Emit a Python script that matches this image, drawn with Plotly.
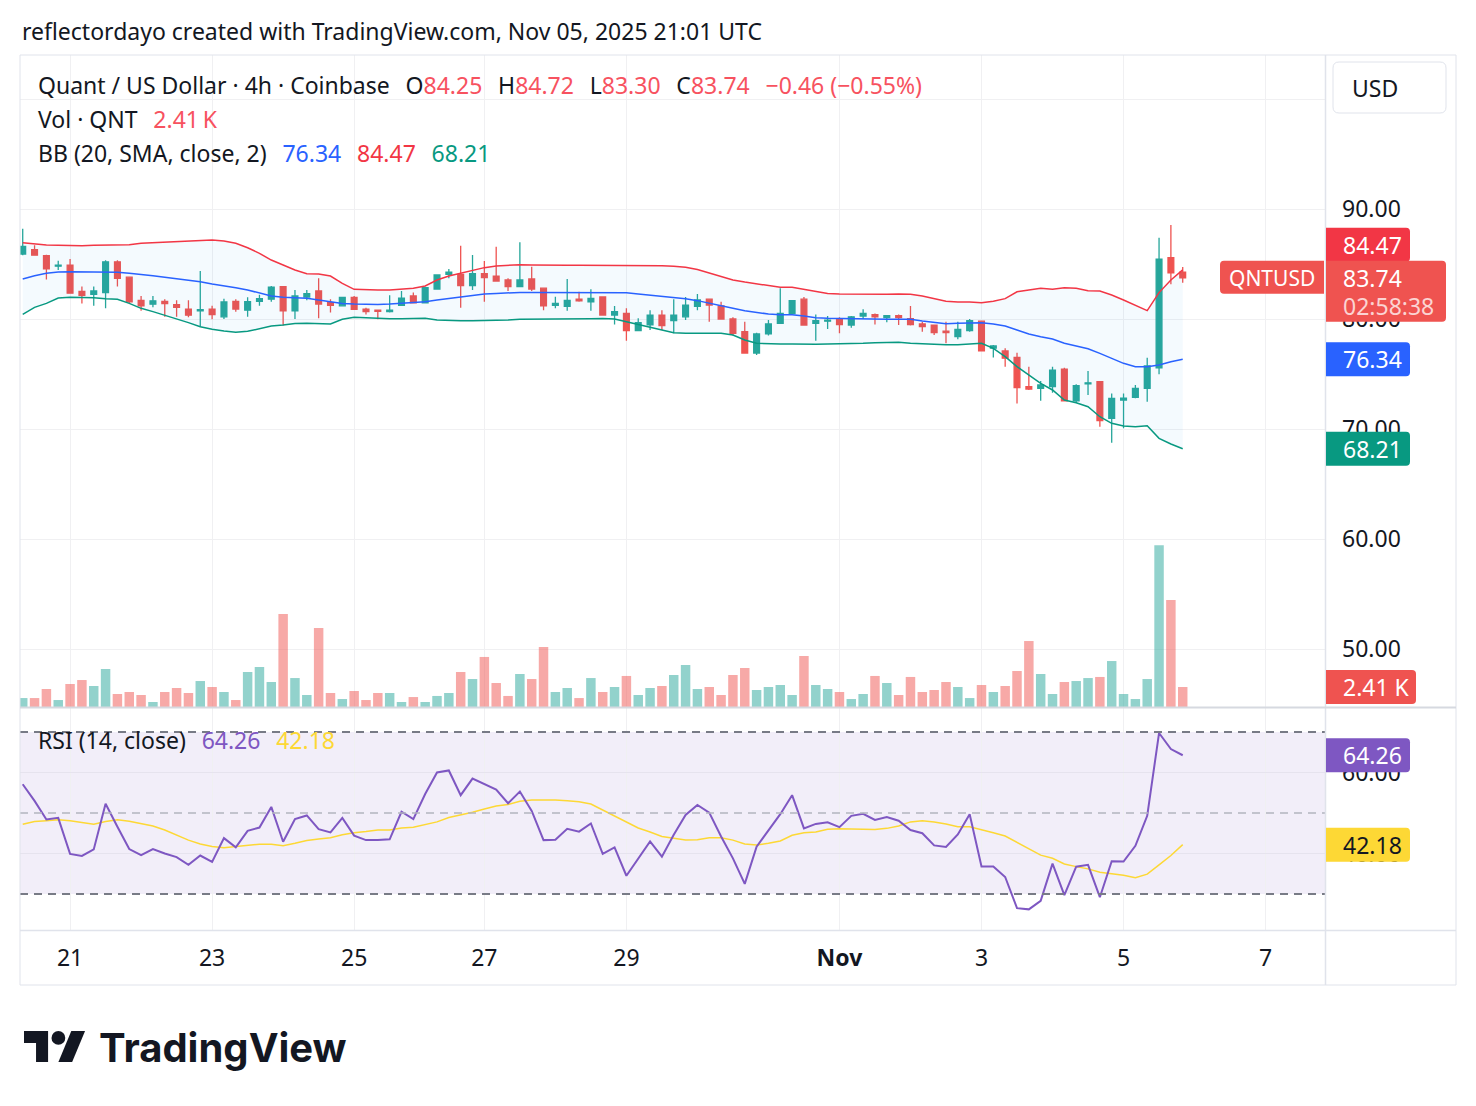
import plotly.graph_objects as go

# ---------------- data ----------------
opens = [85.9, 86.3, 85.75, 84.8, 84.9, 82.5, 82.25, 82.4, 85.2, 83.8,
         81.7, 81.35, 81.6, 81.3, 80.9, 80.75, 80.9, 80.2, 81.6, 80.8,
         81.6, 81.8, 82.95, 80.75, 82.0, 82.55, 81.48, 81.2, 81.97, 80.9,
         80.8, 80.67, 81.24, 82.1, 81.48, 82.73, 84.06, 84.06, 83.03, 84.12,
         83.9, 83.55, 82.94, 83.64, 82.8, 81.24, 81.15, 81.8, 81.57, 82.0,
         80.36, 80.5, 78.94, 79.48, 80.36, 79.85, 80.2, 81.15, 81.8, 81.2,
         80.0, 78.85, 76.9, 78.64, 79.6, 80.5, 81.8, 79.6, 79.8, 79.97,
         79.45, 80.27, 80.4, 80.12, 80.3, 80.03, 79.55, 79.45, 78.9, 78.4,
         78.94, 79.8, 77.35, 77.1, 76.5, 73.85, 73.7, 73.85, 75.45, 72.57,
         74.1, 74.3, 70.97, 72.64, 72.88, 73.7, 75.57, 85.57, 84.25]
highs = [88.2, 86.7, 85.85, 85.3, 85.45, 82.95, 82.95, 85.35, 85.35, 83.85,
         82.1, 82.1, 81.8, 81.7, 81.7, 84.36, 81.2, 81.85, 81.8, 81.97,
         82.2, 83.0, 83.0, 82.64, 82.64, 83.7, 81.8, 82.0, 82.1, 81.03,
         80.85, 82.15, 82.55, 82.4, 82.94, 84.0, 84.55, 86.66, 85.82, 85.27,
         86.57, 83.7, 86.97, 84.76, 82.8, 82.03, 83.64, 82.48, 82.7, 82.05,
         81.18, 80.97, 80.06, 80.8, 80.8, 81.8, 82.0, 82.27, 81.85, 81.57,
         80.15, 79.76, 78.76, 79.9, 82.8, 81.7, 82.0, 80.4, 80.27, 80.15,
         80.27, 80.88, 80.5, 80.36, 80.4, 81.18, 79.76, 79.45, 79.76, 79.76,
         80.0, 79.85, 77.64, 77.34, 76.94, 75.67, 74.36, 75.67, 75.57, 74.06,
         75.27, 74.36, 73.24, 73.24, 74.0, 76.48, 87.39, 88.55, 84.72]
lows = [85.8, 85.8, 83.6, 84.45, 82.3, 81.4, 81.2, 80.97, 82.95, 81.4,
        80.75, 81.06, 80.2, 80.2, 80.15, 79.3, 79.97, 80.0, 80.67, 80.2,
        81.2, 81.57, 79.4, 80.0, 81.7, 80.06, 80.6, 81.15, 80.85, 80.4,
        79.97, 80.6, 81.24, 81.45, 81.45, 82.7, 83.7, 81.03, 82.64, 81.57,
        83.4, 82.55, 82.88, 82.55, 80.8, 80.97, 80.75, 81.57, 80.75, 80.3,
        79.5, 78.03, 78.9, 79.0, 79.0, 78.7, 79.9, 80.8, 79.76, 80.0,
        78.5, 76.9, 76.73, 78.5, 79.6, 80.5, 79.4, 78.03, 79.1, 78.7,
        79.2, 80.0, 79.5, 79.7, 79.45, 79.4, 78.85, 78.55, 77.8, 78.15,
        78.85, 77.1, 76.5, 75.67, 72.33, 73.55, 72.57, 73.3, 72.5, 72.4,
        73.1, 70.2, 68.76, 70.06, 72.79, 72.48, 74.97, 83.15, 83.3]
closes = [86.6, 85.8, 84.55, 84.9, 82.35, 82.15, 82.55, 85.2, 83.7, 81.55,
          81.2, 81.65, 81.4, 81.05, 80.35, 80.85, 80.4, 81.55, 80.9, 81.57,
          81.85, 82.9, 80.75, 82.1, 82.3, 81.36, 81.24, 81.97, 80.88, 80.67,
          80.7, 80.8, 81.9, 81.48, 82.85, 84.0, 84.25, 83.03, 84.12, 83.76,
          83.45, 82.94, 83.55, 82.73, 81.2, 81.42, 81.7, 81.64, 81.88, 80.36,
          80.66, 78.94, 79.67, 80.36, 79.4, 80.36, 81.27, 81.73, 81.27, 80.0,
          78.7, 76.9, 78.64, 79.55, 80.5, 81.66, 79.45, 79.85, 79.9, 79.5,
          80.2, 80.5, 80.2, 80.3, 80.12, 79.5, 79.3, 78.76, 78.76, 79.06,
          79.85, 77.1, 77.55, 76.44, 73.76, 73.64, 74.0, 75.36, 72.55, 73.94,
          74.2, 70.76, 72.79, 72.8, 73.7, 75.73, 85.45, 84.20, 83.74]
volumes_k = [1.08, 1.08, 2.17, 0.84, 2.77, 3.25, 2.53, 4.58, 1.57, 1.81,
             1.45, 0.60, 1.81, 2.29, 1.69, 3.13, 2.41, 1.81, 0.84, 4.22,
             4.82, 3.01, 11.2, 3.49, 1.45, 9.52, 1.69, 0.96, 1.93, 0.84,
             1.69, 1.69, 0.60, 1.20, 0.60, 1.33, 1.69, 4.22, 3.37, 6.03,
             2.89, 1.33, 3.98, 3.37, 7.23, 1.81, 2.29, 1.08, 3.49, 1.81,
             2.41, 3.74, 1.45, 2.29, 2.53, 3.86, 5.06, 2.17, 2.41, 1.45,
             3.86, 4.70, 2.05, 2.41, 2.65, 1.45, 6.15, 2.65, 2.17, 1.81,
             0.96, 1.57, 3.74, 2.89, 1.45, 3.62, 1.81, 2.05, 3.01, 2.41,
             1.08, 2.65, 1.81, 2.53, 4.34, 7.95, 3.98, 1.57, 3.01, 3.13,
             3.49, 3.62, 5.54, 1.57, 0.96, 3.37, 19.5, 12.9, 2.41]
bb_upper = [86.94, 86.82, 86.73, 86.70, 86.67, 86.67, 86.70, 86.70, 86.70, 86.76,
            86.88, 86.94, 86.97, 87.03, 87.12, 87.18, 87.18, 87.09, 86.88, 86.48,
            85.97, 85.36, 84.91, 84.45, 84.12, 84.09, 83.91, 83.24, 82.70, 82.64,
            82.64, 82.64, 82.70, 82.79, 83.00, 83.55, 83.91, 84.15, 84.45, 84.67,
            84.82, 84.91, 84.94, 84.91, 84.88, 84.88, 84.88, 84.88, 84.88, 84.88,
            84.88, 84.9, 84.9, 84.9, 84.85, 84.8, 84.7, 84.5, 84.2, 83.9,
            83.55, 83.36, 83.18, 83.0, 82.88, 82.88, 82.7, 82.49, 82.33, 82.27,
            82.25, 82.25, 82.25, 82.25, 82.27, 82.24, 82.09, 81.85, 81.61, 81.55,
            81.55, 81.48, 81.61, 81.85, 82.48, 82.64, 82.79, 82.7, 82.85, 82.79,
            82.58, 82.55, 82.18, 81.73, 81.27, 80.76, 82.4, 83.55, 84.47]
bb_mid = [83.64, 83.94, 84.15, 84.27, 84.30, 84.30, 84.30, 84.30, 84.24, 84.15,
          84.06, 83.94, 83.79, 83.67, 83.55, 83.39, 83.18, 83.03, 82.85, 82.64,
          82.33, 82.09, 81.97, 81.91, 81.88, 81.73, 81.58, 81.42, 81.36, 81.33,
          81.33, 81.36, 81.42, 81.48, 81.58, 81.73, 81.88, 82.03, 82.15, 82.27,
          82.33, 82.39, 82.42, 82.42, 82.42, 82.42, 82.42, 82.42, 82.42, 82.45,
          82.42, 82.39, 82.27, 82.18, 82.09, 81.97, 81.85, 81.67, 81.42, 81.18,
          80.97, 80.76, 80.58, 80.45, 80.39, 80.39, 80.27, 80.12, 80.06, 80.03,
          80.0, 80.0, 79.97, 79.97, 79.97, 79.97, 79.82, 79.67, 79.58, 79.61,
          79.67, 79.67, 79.55, 79.36, 79.0, 78.64, 78.39, 78.18, 77.79, 77.55,
          77.3, 76.88, 76.42, 75.97, 75.67, 75.67, 75.82, 76.12, 76.34]
bb_lower = [80.42, 81.06, 81.42, 81.91, 81.97, 81.97, 81.94, 81.85, 81.79, 81.42,
            80.97, 80.67, 80.36, 80.03, 79.67, 79.30, 79.06, 78.91, 78.79, 78.88,
            79.15, 79.36, 79.45, 79.60, 79.62, 79.6, 79.54, 79.97, 80.15, 80.12,
            80.06, 80.03, 80.03, 80.06, 80.06, 79.91, 79.85, 79.85, 79.85, 79.85,
            79.85, 79.91, 79.97, 79.97, 80.0, 80.0, 79.97, 79.97, 80.03, 80.04,
            80.0, 79.76, 79.52, 79.24, 79.0, 78.76, 78.7, 78.7, 78.76, 78.7,
            78.55, 78.09, 77.79, 77.73, 77.73, 77.73, 77.7, 77.7, 77.73, 77.73,
            77.73, 77.79, 77.85, 77.88, 77.88, 77.79, 77.73, 77.7, 77.67, 77.67,
            77.73, 77.79, 77.33, 76.58, 75.67, 74.91, 74.15, 73.55, 72.64, 72.39,
            72.03, 71.12, 70.52, 70.27, 70.21, 70.3, 69.15, 68.64, 68.21]
rsi = [57.1, 53.0, 48.4, 48.8, 39.9, 39.4, 41.0, 52.3, 46.6, 41.1,
       39.6, 41.1, 40.0, 39.1, 37.2, 39.5, 37.9, 43.8, 41.5, 45.6,
       46.4, 51.5, 42.9, 48.5, 49.4, 46.0, 45.2, 48.8, 44.4, 43.3,
       43.3, 43.5, 50.3, 48.5, 54.7, 60.0, 60.5, 54.4, 58.5, 57.2,
       55.8, 52.4, 55.3, 50.5, 43.3, 43.4, 46.1, 45.4, 47.4, 39.9,
       41.5, 34.5, 38.8, 43.0, 39.2, 44.6, 49.5, 52.0, 50.1, 44.2,
       38.8, 32.5, 41.7, 45.8, 49.7, 54.4, 46.2, 47.3, 47.7, 46.5,
       49.3, 49.8, 48.3, 49.0, 48.1, 45.8, 45.0, 42.0, 41.6, 44.7,
       49.7, 36.8, 36.8, 34.2, 26.5, 26.2, 28.3, 37.5, 29.7, 36.75,
       37.2, 29.2, 38.1, 38.0, 41.9, 49.3, 69.75, 65.8, 64.26]
rsi_ma = [47.2, 47.9, 48.1, 48.3, 48.1, 47.6, 47.2, 47.9, 48.3, 47.95,
          47.45, 46.8, 45.8, 44.6, 43.3, 42.35, 41.7, 41.44, 41.7, 42.0,
          42.3, 42.3, 41.9, 42.5, 43.2, 43.6, 43.9, 44.6, 45.1, 45.4,
          45.8, 45.8, 46.3, 46.5, 47.1, 47.8, 48.9, 49.5, 50.2, 51.0,
          51.7, 52.1, 52.9, 53.2, 53.2, 53.2, 53.0, 52.8, 52.2, 50.7,
          49.3, 47.7, 46.3, 45.3, 44.2, 43.75, 43.3, 43.4, 43.9, 43.9,
          43.3, 42.35, 42.1, 42.5, 43.1, 44.5, 45.1, 45.3, 46.0, 46.1,
          46.1, 46.0, 45.9, 46.2, 46.8, 47.8, 48.1, 47.8, 47.3, 46.6,
          46.6, 45.9, 45.1, 44.3, 42.7, 41.0, 39.6, 38.8, 37.4, 36.75,
          36.2, 35.35, 35.0, 34.6, 34.0, 34.9, 37.2, 39.5, 42.18]
tick_pos = [4, 16, 28, 39, 51, 69, 81, 93, 105]
tick_text = ["21", "23", "25", "27", "29", "<b>Nov</b>", "3", "5", "7"]
price_ticks = [50, 60, 70, 80, 90, 100]
price_tick_text = ["50.00", "60.00", "70.00", "80.00", "90.00", ""]
rsi_ticks = [40, 60]
rsi_tick_text = ["40.00", "60.00"]
rsi_levels = [70, 50, 30]

idx = list(range(len(closes)))

# ---------------- styling ----------------
W, H = 1476, 1106
FONT = "Noto Sans"
FS = 23
TXT = "#131722"
GRID = "#f0f0f2"
UP, DOWN = "#26a69a", "#ef5350"
def px(x): return x / W
def py(y): return 1 - y / H

X0, X1 = px(20), px(1325)
P_DOM = [py(707), py(55)]
R_DOM = [py(930), py(708)]
XR = [-0.23, 110.02]

vol_colors = ["rgba(38,166,154,0.5)" if c >= o else "rgba(239,83,80,0.5)"
              for o, c in zip(opens, closes)]

fig = go.Figure()
fig.add_trace(go.Scatter(x=idx, y=bb_upper, mode="lines", line=dict(color="#f23645", width=1.5),
                         xaxis="x", yaxis="y", hoverinfo="skip"))
fig.add_trace(go.Scatter(x=idx, y=bb_lower, mode="lines", line=dict(color="#089981", width=1.5),
                         fill="tonexty", fillcolor="rgba(33,150,243,0.05)",
                         xaxis="x", yaxis="y", hoverinfo="skip"))
fig.add_trace(go.Scatter(x=idx, y=bb_mid, mode="lines", line=dict(color="#2962ff", width=1.5),
                         xaxis="x", yaxis="y", hoverinfo="skip"))
fig.add_trace(go.Candlestick(x=idx, open=opens, high=highs, low=lows, close=closes,
                             increasing=dict(line=dict(color=UP, width=1.3), fillcolor=UP),
                             decreasing=dict(line=dict(color=DOWN, width=1.3), fillcolor=DOWN),
                             whiskerwidth=0, xaxis="x", yaxis="y"))
fig.add_trace(go.Bar(x=idx, y=volumes_k, marker=dict(color=vol_colors, line=dict(width=0)),
                     width=0.8, xaxis="x", yaxis="y3", hoverinfo="skip"))
fig.add_trace(go.Scatter(x=idx, y=rsi_ma, mode="lines", line=dict(color="#fdd835", width=1.5),
                         xaxis="x2", yaxis="y2", hoverinfo="skip"))
fig.add_trace(go.Scatter(x=idx, y=rsi, mode="lines", line=dict(color="#7e57c2", width=2),
                         xaxis="x2", yaxis="y2", hoverinfo="skip"))

axis_font = dict(family=FONT, size=FS, color=TXT)
fig.update_layout(
    width=W, height=H, margin=dict(l=0, r=0, t=0, b=0),
    paper_bgcolor="white", plot_bgcolor="white", showlegend=False,
    font=dict(family=FONT, size=FS, color=TXT), hovermode=False,
    xaxis=dict(domain=[X0, X1], anchor="y", range=XR, tickvals=tick_pos, showticklabels=False,
               showgrid=True, gridcolor=GRID, zeroline=False, showline=False, ticks="",
               rangeslider=dict(visible=False), fixedrange=True),
    xaxis2=dict(domain=[X0, X1], anchor="y2", range=XR, tickvals=tick_pos, ticktext=tick_text,
                showgrid=True, gridcolor=GRID, zeroline=False, showline=False, ticks="",
                ticklabelstandoff=12, tickfont=axis_font, matches="x", fixedrange=True),
    yaxis=dict(domain=P_DOM, anchor="x", side="right", range=[44.73, 104.0], tickvals=price_ticks,
               ticktext=price_tick_text, showgrid=True, gridcolor=GRID, zeroline=False,
               showline=False, ticks="", ticklabelstandoff=16, tickfont=axis_font, fixedrange=True),
    yaxis3=dict(overlaying="y", anchor="x", range=[0, 78.57], visible=False, fixedrange=True),
    yaxis2=dict(domain=R_DOM, anchor="x2", side="right", range=[21.1, 75.93], tickvals=rsi_ticks,
                ticktext=rsi_tick_text, showgrid=True, gridcolor="#e6e3ee", zeroline=False,
                showline=False, ticks="", ticklabelstandoff=16, tickfont=axis_font, fixedrange=True),
)

shapes = []
# RSI band and level lines
shapes.append(dict(type="rect", xref="paper", yref="y2", x0=X0, x1=X1, y0=rsi_levels[2], y1=rsi_levels[0],
                   fillcolor="rgba(126,87,194,0.1)", line=dict(width=0), layer="below"))
for lv in rsi_levels:
    mid = lv == 50
    shapes.append(dict(type="line", xref="paper", yref="y2", x0=X0, x1=X1, y0=lv, y1=lv,
                       line=dict(color="#b2b5be" if mid else "#787b86", width=1.5 if mid else 2,
                                 dash="8px,6px"), layer="above"))
# frame lines
FR = "#e0e3eb"
shapes += [
    dict(type="rect", xref="paper", yref="paper", x0=px(20), x1=px(1456), y0=py(985), y1=py(55),
         line=dict(color=FR, width=1), layer="above"),
    dict(type="line", xref="paper", yref="paper", x0=px(1325.5), x1=px(1325.5), y0=py(985), y1=py(55),
         line=dict(color=FR, width=1.5), layer="above"),
    dict(type="line", xref="paper", yref="paper", x0=px(20), x1=px(1456), y0=py(930.5), y1=py(930.5),
         line=dict(color=FR, width=1.5), layer="above"),
    dict(type="line", xref="paper", yref="paper", x0=px(20), x1=px(1456), y0=py(707.5), y1=py(707.5),
         line=dict(color="#d6d9e0", width=2), layer="above"),
]

def rpath(x0, x1, y0, y1, r=4):
    return (f"M{x0},{y0} L{x1-r},{y0} Q{x1},{y0} {x1},{y0+r} L{x1},{y1-r} "
            f"Q{x1},{y1} {x1-r},{y1} L{x0},{y1} Z")

def lpath(x0, x1, y0, y1, r=4):
    return (f"M{x0+r},{y0} L{x1},{y0} L{x1},{y1} L{x0+r},{y1} "
            f"Q{x0},{y1} {x0},{y1-r} L{x0},{y0+r} Q{x0},{y0} {x0+r},{y0} Z")

annotations = []
def value_label(yref, yval, text, bg, fg="white", w=85, h=34, yshift=0):
    shapes.append(dict(type="path", xref="paper", yref=yref, xsizemode="pixel", ysizemode="pixel",
                       xanchor=X1, yanchor=yval, path=rpath(1, w, -h / 2 + yshift, h / 2 + yshift),
                       fillcolor=bg, line=dict(width=0), layer="above"))
    annotations.append(dict(xref="paper", yref=yref, x=X1, y=yval, xanchor="left", yanchor="middle",
                            xshift=16, yshift=yshift, text=text, showarrow=False,
                            font=dict(family=FONT, size=FS, color=fg)))

last_close = closes[-1]
value_label("y", bb_upper[-1], f"{bb_upper[-1]:.2f}", "#f23645", yshift=25)
# last price block (two lines) and symbol tag
shapes.append(dict(type="path", xref="paper", yref="y", xsizemode="pixel", ysizemode="pixel",
                   xanchor=X1, yanchor=last_close, path=rpath(1, 121, -44, 17),
                   fillcolor="#ef5350", line=dict(width=0), layer="above"))
shapes.append(dict(type="path", xref="paper", yref="y", xsizemode="pixel", ysizemode="pixel",
                   xanchor=X1, yanchor=last_close, path=lpath(-105, -1, -16, 17),
                   fillcolor="#ef5350", line=dict(width=0), layer="above"))
annotations.append(dict(xref="paper", yref="y", x=X1, y=last_close, xanchor="left", yanchor="middle",
                        xshift=16, text=f"{last_close:.2f}", showarrow=False,
                        font=dict(family=FONT, size=FS, color="white")))
annotations.append(dict(xref="paper", yref="y", x=X1, y=last_close, xanchor="left", yanchor="middle",
                        xshift=16, yshift=-28, text="02:58:38", showarrow=False,
                        font=dict(family=FONT, size=FS, color="rgba(255,255,255,0.75)")))
annotations.append(dict(xref="paper", yref="y", x=X1, y=last_close, xanchor="center", yanchor="middle",
                        xshift=-53, text="QNTUSD", showarrow=False,
                        font=dict(family=FONT, size=21, color="white")))
value_label("y", bb_mid[-1], f"{bb_mid[-1]:.2f}", "#2962ff")
value_label("y", bb_lower[-1], f"{bb_lower[-1]:.2f}", "#089981")
value_label("y3", volumes_k[-1], f"{volumes_k[-1]:.2f} K", "#ef5350", w=91)
value_label("y2", rsi[-1], f"{rsi[-1]:.2f}", "#7e57c2")
value_label("y2", rsi_ma[-1], f"{rsi_ma[-1]:.2f}", "#fdd835", fg=TXT)

# USD box
shapes.append(dict(type="path", xref="paper", yref="paper",
                   path=f"M{px(1339)},{py(62)} L{px(1440)},{py(62)} Q{px(1446)},{py(62)} {px(1446)},{py(68)} "
                        f"L{px(1446)},{py(107)} Q{px(1446)},{py(113)} {px(1440)},{py(113)} L{px(1339)},{py(113)} "
                        f"Q{px(1333)},{py(113)} {px(1333)},{py(107)} L{px(1333)},{py(68)} Q{px(1333)},{py(62)} {px(1339)},{py(62)} Z",
                   fillcolor="white", line=dict(color=FR, width=1), layer="above"))
annotations.append(dict(xref="paper", yref="paper", x=px(1350), y=py(88), xanchor="left", yanchor="middle",
                        text="USD", showarrow=False, font=dict(family=FONT, size=FS, color=TXT)))

# header / legends
RED = "#f7525f"
def c(t, col): return f"<span style='color:{col}'>{t}</span>"
sp = "\u00a0\u00a0\u2009"
o, h, l, cl = opens[-1], highs[-1], lows[-1], closes[-1]
prev = closes[-2]
chg = cl - prev
row1 = ("Quant / US Dollar · 4h · Coinbase" + sp + "O" + c(f"{o:.2f}", RED) + sp + "H" + c(f"{h:.2f}", RED)
        + sp + "L" + c(f"{l:.2f}", RED) + sp + "C" + c(f"{cl:.2f}", RED) + sp
        + c(f"−{abs(chg):.2f} (−{abs(chg) / prev * 100:.2f}%)", RED))
row2 = "Vol · QNT" + sp + c(f"{volumes_k[-1]:.2f}\u2009K", RED)
row3 = ("BB (20, SMA, close, 2)" + sp + c(f"{bb_mid[-1]:.2f}", "#2962ff") + sp
        + c(f"{bb_upper[-1]:.2f}", "#f23645") + sp + c(f"{bb_lower[-1]:.2f}", "#089981"))
row4 = "RSI (14, close)" + sp + c(f"{rsi[-1]:.2f}", "#7e57c2") + sp + c(f"{rsi_ma[-1]:.2f}", "#fdd835")
for text, x, y, size in [
    ("reflectordayo created with TradingView.com, Nov 05, 2025 21:01 UTC", 20, 31, FS),
    (row1, 36, 85, FS), (row2, 36, 119, FS), (row3, 36, 153, FS), (row4, 36, 740, FS),
]:
    annotations.append(dict(xref="paper", yref="paper", x=px(x), y=py(y), xanchor="left", yanchor="middle",
                            text=text, showarrow=False, font=dict(family=FONT, size=size, color=TXT)))

# TradingView logo
def lx(u): return px(24 + u * 1.72)
def ly(v): return py(1031 + (v - 4) * 1.72)
logo_t = [(14, 22), (7, 22), (7, 11), (0, 11), (0, 4), (14, 4)]
logo_p = [(28, 22), (20, 22), (27.5, 4), (35.5, 4)]
def poly(pts): return "M" + " L".join(f"{lx(u)},{ly(v)}" for u, v in pts) + " Z"
shapes.append(dict(type="path", xref="paper", yref="paper", path=poly(logo_t), fillcolor=TXT,
                   line=dict(width=0), layer="above"))
shapes.append(dict(type="path", xref="paper", yref="paper", path=poly(logo_p), fillcolor=TXT,
                   line=dict(width=0), layer="above"))
shapes.append(dict(type="circle", xref="paper", yref="paper", x0=lx(16), x1=lx(24), y0=ly(4), y1=ly(12),
                   fillcolor=TXT, line=dict(width=0), layer="above"))
annotations.append(dict(xref="paper", yref="paper", x=px(97), y=py(1047), xanchor="left", yanchor="middle",
                        text="<b>TradingView</b>", showarrow=False,
                        font=dict(family="Inter", size=40, color=TXT)))

fig.update_layout(shapes=shapes, annotations=annotations)
fig.write_html("out.html", config=dict(staticPlot=True))
